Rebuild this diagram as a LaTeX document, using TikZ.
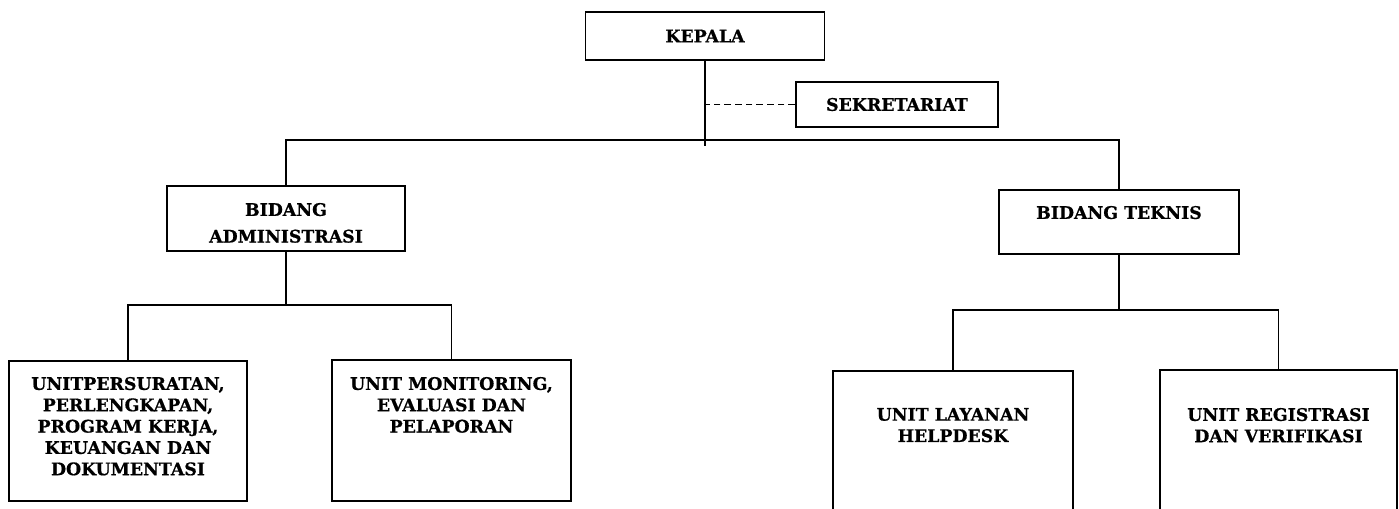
\documentclass[tikz,border=0pt]{standalone}
\usepackage{fontspec}
\setmainfont{DejaVu Serif}[BoldFeatures={FakeBold=0.7}]
\newcommand{\toptext}[4]{\parbox[c][#2][t]{#1}{\centering\vspace*{#3}#4\par}}
\newcommand{\midtext}[3]{\parbox[c][#2][c]{#1}{\centering #3\par}}
\tikzset{
  orgbox/.style={draw, line width=1.4pt, inner sep=0pt, fill=white,
    font=\bfseries\fontsize{13}{16}\selectfont},
  orgline/.style={line width=1.4pt}
}
\begin{document}
\begin{tikzpicture}[x=0.75pt, y=-0.75pt]
        \useasboundingbox (0,0) rectangle (1399,508);
        \clip (0,0) rectangle (1399,508);
        \node[orgbox] (kepala) at (705,36) {\midtext{179.25pt}{36pt}{KEPALA}};
        \node[orgbox] (sekre) at (897,104.5) {\midtext{151.5pt}{33.75pt}{SEKRETARIAT}};
        \node[orgbox, font=\bfseries\fontsize{13}{20}\selectfont] (admin) at (286,218.5) {\toptext{178.5pt}{48.75pt}{12.75pt}{BIDANG\\ADMINISTRASI}};
        \node[orgbox] (teknis) at (1119,222) {\toptext{180pt}{48pt}{12pt}{BIDANG TEKNIS}};
        \node[orgbox] (surat) at (128,431) {\toptext{178.5pt}{105pt}{12pt}{UNITPERSURATAN,\\PERLENGKAPAN,\\PROGRAM KERJA,\\KEUANGAN DAN\\DOKUMENTASI}};
        \node[orgbox] (monitor) at (451.5,430.5) {\toptext{179.25pt}{105.75pt}{12.75pt}{UNIT MONITORING,\\EVALUASI DAN\\PELAPORAN}};
        \node[orgbox] (layanan) at (953,445.5) {\toptext{180pt}{111.75pt}{27.75pt}{UNIT LAYANAN\\HELPDESK}};
        \node[orgbox] (regis) at (1278.5,445) {\toptext{177.75pt}{112.5pt}{28.5pt}{UNIT REGISTRASI\\DAN VERIFIKASI}};
        \draw[style = orgline] (kepala.south) -- ++(0,85);
        \draw[style = orgline, dash pattern=on 5pt off 3pt] (sekre.west) -- (sekre.west -| kepala.south);
        \draw[style = orgline] (admin.north) -- ++(0,-45) -| (teknis.north);
        \draw[style = orgline] (admin.south) -- ++(0,53) coordinate (abus);
        \draw[style = orgline] (surat.north) |- (abus) -| (monitor.north);
        \draw[style = orgline] (teknis.south) -- ++(0,55) coordinate (tbus);
        \draw[style = orgline] (layanan.north) |- (tbus) -| (regis.north);
    \end{tikzpicture}
\end{document}
